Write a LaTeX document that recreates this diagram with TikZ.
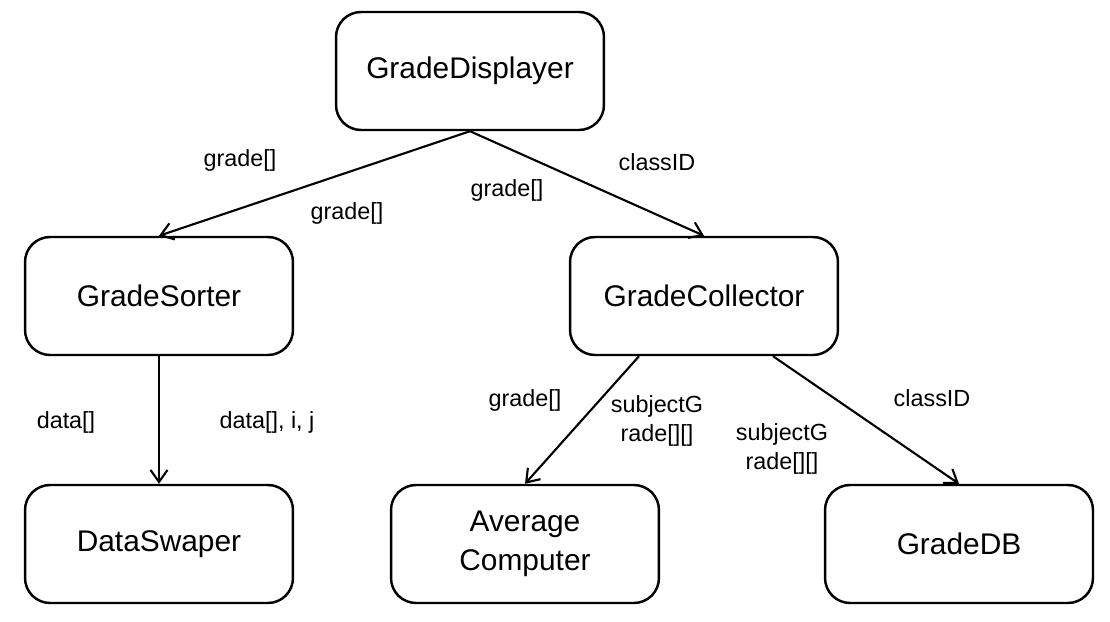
\documentclass[tikz,border=0pt]{standalone}
\usepackage{fontspec}
\setmainfont{Liberation Sans}
\usetikzlibrary{arrows.meta}
\usetikzlibrary{calc}

\tikzset{
    module/.style = {draw, line width = 1.4pt, rounded corners = 0.5cm, minimum width = 5.36cm, minimum height = 2.36cm, align = center, font = \fontsize{17}{20}\selectfont},
    flow/.style = {-{Straight Barb[length = 2.4mm, width = 3.4mm]}, line width = 1.2pt},
    lbl/.style = {align = center, font = \fontsize{13.3}{16}\selectfont}
}

\begin{document}
\begin{tikzpicture}[x = 0.02cm, y = -0.02cm]
            \useasboundingbox (0,0) rectangle (1110,622);
            \node[module] (Disp) at (470,71) {GradeDisplayer};
            \node[module] (Sort) at (159,296) {GradeSorter};
            \node[module] (Coll) at (704,296) {GradeCollector};
            \node[module] (Swap) at (159,544) {DataSwaper};
            \node[module] (Avg) at (525,544) {Average\\[2pt]Computer};
            \node[module] (DB) at (959,544) {GradeDB};
            \draw[flow] (Disp.south) to (Sort.north);
            \draw[flow] (Disp.south) to (Coll.north);
            \draw[flow] (Sort.south) to (Swap.north);
            \draw[flow] ($(Coll.south) + (-65,0)$) to (Avg.north);
            \draw[flow] ($(Coll.south) + (69,0)$) to (DB.north);
            \node[lbl] (l1) at (240,160) {grade[]};
            \node[lbl] (l2) at (347,213) {grade[]};
            \node[lbl] (l3) at (507,190) {grade[]};
            \node[lbl] (l4) at (657,162) {classID};
            \node[lbl] (l5) at (66,422) {data[]};
            \node[lbl] (l6) at (267,422) {data[], i, j};
            \node[lbl] (l7) at (525,400) {grade[]};
            \node[lbl] (l8) at (657,421) {subjectG\\rade[][]};
            \node[lbl] (l9) at (782,449) {subjectG\\rade[][]};
            \node[lbl] (l10) at (932,398) {classID};
        \end{tikzpicture}
\end{document}
